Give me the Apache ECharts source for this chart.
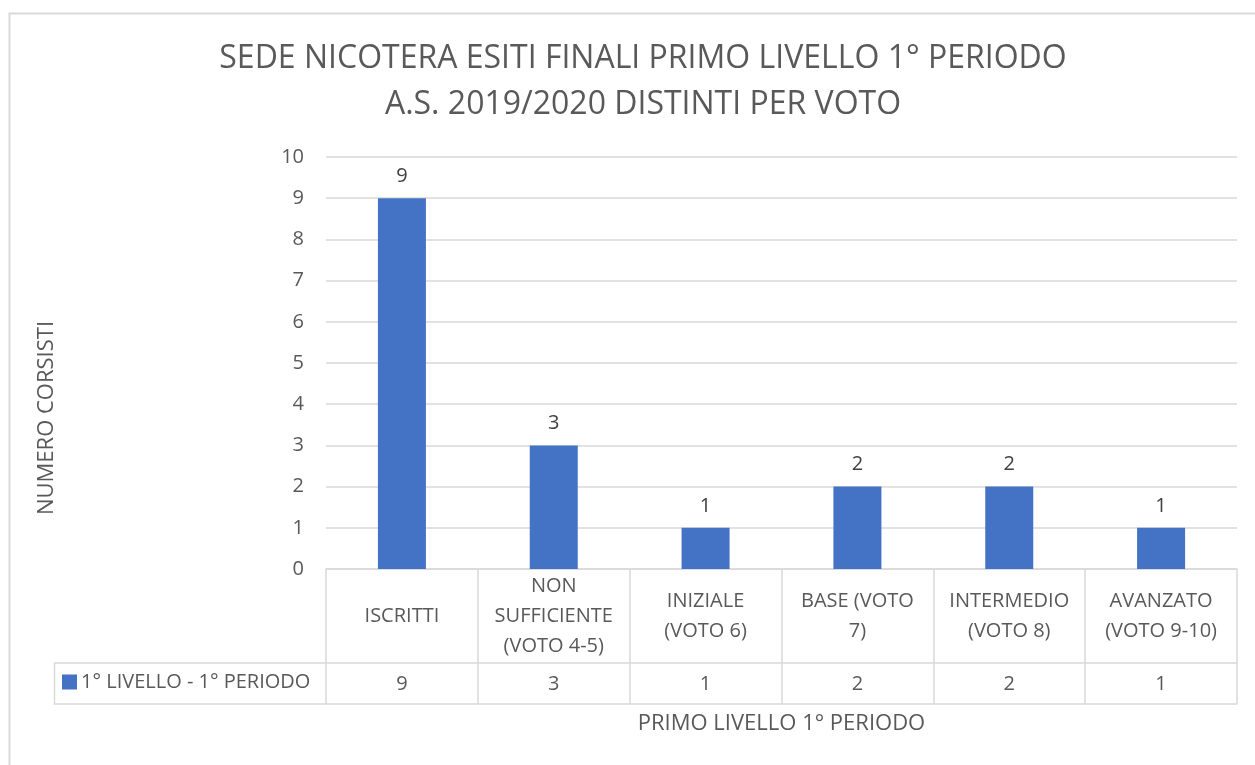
<!DOCTYPE html>
<html>
<head>
<meta charset="utf-8">
<script src="https://cdn.jsdelivr.net/npm/echarts@6/dist/echarts.min.js"></script>
<style>
  html, body { margin: 0; padding: 0; background: #fff; }
  #chart { width: 1255px; height: 765px; }
</style>
</head>
<body>
<div id="chart"></div>
<script>
// Categories (table header row) and values for the single series
const categories = [
  'ISCRITTI',
  'NON\nSUFFICIENTE\n(VOTO 4-5)',
  'INIZIALE\n(VOTO 6)',
  'BASE (VOTO\n7)',
  'INTERMEDIO\n(VOTO 8)',
  'AVANZATO\n(VOTO 9-10)'
];
const seriesName = '1° LIVELLO - 1° PERIODO';
const values = [9, 3, 1, 2, 2, 1];
const yTicks = [0, 1, 2, 3, 4, 5, 6, 7, 8, 9, 10];

const FONT = '"Open Sans", "Noto Sans", sans-serif';
const TXT = '#595959';
const LINE = '#d9d9d9';

const chart = echarts.init(document.getElementById('chart'), null, { renderer: 'canvas' });

const option = {
  backgroundColor: '#ffffff',
  animation: false,
  textStyle: { fontFamily: FONT },
  title: {
    text: 'SEDE NICOTERA ESITI FINALI PRIMO LIVELLO 1° PERIODO\nA.S. 2019/2020 DISTINTI PER VOTO',
    left: 638,
    textAlign: 'center',
    top: 31,
    textStyle: { fontFamily: FONT, fontSize: 32, fontWeight: 'normal', color: TXT, lineHeight: 46 }
  },
  legend: {
    data: [seriesName],
    left: 62,
    top: 672,
    icon: 'rect',
    itemWidth: 15,
    itemHeight: 15,
    itemGap: 0,
    padding: 0,
    textStyle: { fontFamily: FONT, fontSize: 20, color: TXT, padding: [0, 0, 0, -1] }
  },
  grid: { left: 326, right: 18, top: 157, bottom: 196, containLabel: false },
  xAxis: [
    {
      type: 'category',
      data: categories,
      position: 'bottom',
      axisLine: { show: true, lineStyle: { color: LINE, width: 1.5 } },
      axisTick: { show: true, length: 135, alignWithLabel: false, lineStyle: { color: LINE, width: 1.5 } },
      axisLabel: {
        interval: 0,
        margin: 47,
        verticalAlign: 'middle',
        lineHeight: 30,
        fontFamily: FONT,
        fontSize: 20,
        color: TXT
      }
    },
    {
      type: 'category',
      data: categories,
      position: 'bottom',
      offset: 94,
      axisLine: { show: true, lineStyle: { color: LINE, width: 1.5 } },
      axisTick: { show: false },
      axisLabel: {
        interval: 0,
        margin: 21,
        verticalAlign: 'middle',
        fontFamily: FONT,
        fontSize: 20,
        color: TXT,
        formatter: (v, i) => String(values[i])
      }
    },
    {
      type: 'category',
      data: categories,
      position: 'bottom',
      offset: 135,
      axisLine: { show: true, lineStyle: { color: LINE, width: 1.5 } },
      axisTick: { show: false },
      axisLabel: { show: false },
      name: 'PRIMO LIVELLO 1° PERIODO',
      nameLocation: 'middle',
      nameGap: 20,
      nameTextStyle: { fontFamily: FONT, fontSize: 22, color: TXT, verticalAlign: 'middle' }
    }
  ],
  yAxis: {
    type: 'value',
    min: yTicks[0],
    max: yTicks[yTicks.length - 1],
    interval: 1,
    axisLine: { show: false },
    axisTick: { show: false },
    splitLine: { lineStyle: { color: LINE, width: 1.5 } },
    axisLabel: { margin: 22, fontFamily: FONT, fontSize: 20, color: TXT },
    name: 'NUMERO CORSISTI',
    nameLocation: 'middle',
    nameRotate: 90,
    nameGap: 279,
    nameTextStyle: { fontFamily: FONT, fontSize: 22, color: TXT, verticalAlign: 'middle', padding: [0, 110, 0, 0] }
  },
  series: [
    {
      name: seriesName,
      type: 'bar',
      xAxisIndex: 0,
      data: values,
      barWidth: 48,
      itemStyle: { color: '#4472C4' },
      label: {
        show: true,
        position: 'top',
        distance: 12,
        fontFamily: FONT,
        fontSize: 20,
        color: '#404040'
      }
    }
  ]
};

chart.setOption(option);

// Outer chart frame and the legend cell of the data table
const gridRect = chart.getModel().getComponent('grid').coordinateSystem.getRect();
const rowTop = gridRect.y + gridRect.height + 94;
const rowBottom = gridRect.y + gridRect.height + 135;
chart.setOption({
  graphic: [
    {
      type: 'rect',
      shape: { x: 9.5, y: 13.5, width: 1400, height: 900 },
      style: { fill: 'none', stroke: LINE, lineWidth: 2 },
      silent: true, z: -1
    },
    {
      type: 'polyline',
      shape: { points: [[gridRect.x, rowTop], [54.5, rowTop], [54.5, rowBottom], [gridRect.x, rowBottom]] },
      style: { fill: 'none', stroke: LINE, lineWidth: 1.5 },
      silent: true
    }
  ]
});
</script>
</body>
</html>
